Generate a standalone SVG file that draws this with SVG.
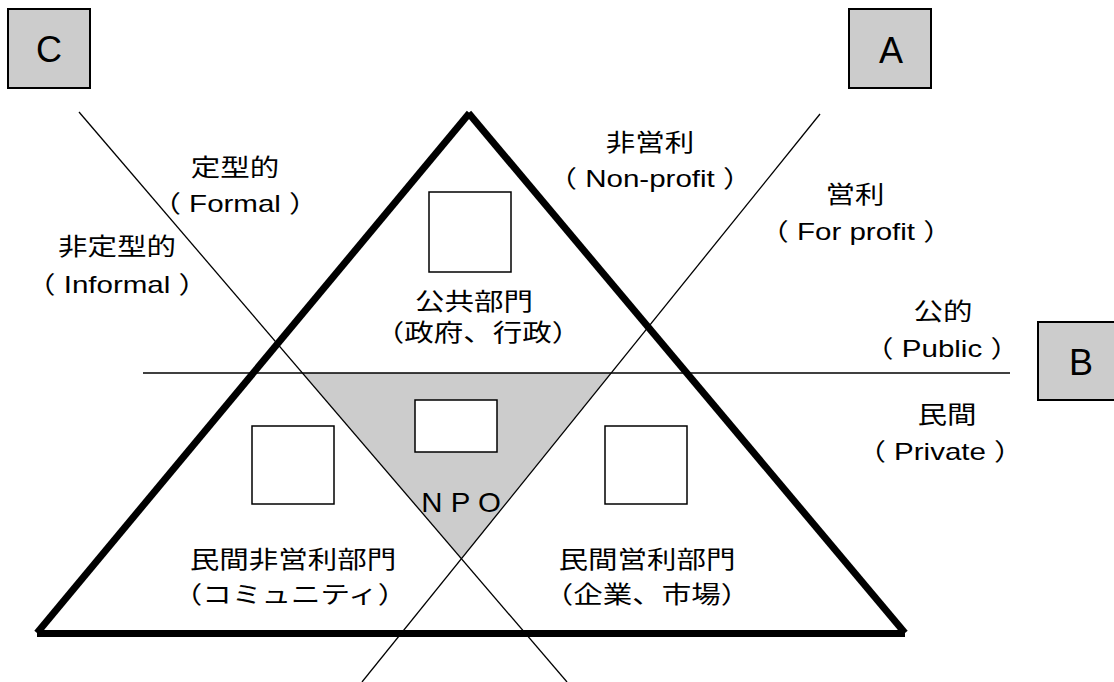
<svg xmlns="http://www.w3.org/2000/svg" width="1114" height="682" viewBox="0 0 1114 682">
<style>
.t{font-family:"Liberation Sans","Noto Sans CJK JP",sans-serif;font-size:24px;fill:#000;text-anchor:middle}
.big{font-family:"Liberation Sans","Noto Sans CJK JP",sans-serif;font-size:36px;fill:#000;text-anchor:middle}
.lbl{fill:#cccccc;stroke:#000;stroke-width:2}
.box{fill:#fff;stroke:#000;stroke-width:1.5}
.thin{stroke:#000;stroke-width:1.3;fill:none}
.thick{stroke:#000;stroke-width:7;fill:none;stroke-linecap:butt}
</style>
<rect width="1114" height="682" fill="#fff"/>
<polygon points="302.5,373 611,373 461.5,558.8" fill="#cccccc"/>
<g id="connectors">
<line class="thin" x1="143" y1="373" x2="1010" y2="373"/>
<line class="thin" x1="79" y1="112" x2="567" y2="682"/>
<line class="thin" x1="820" y1="114" x2="362" y2="682"/>
</g>
<g id="triangle">
<line class="thick" x1="37" y1="633" x2="469.5" y2="113"/>
<line class="thick" x1="468.5" y1="113" x2="905" y2="633"/>
<line class="thick" x1="37" y1="633.5" x2="905" y2="633.5"/>
</g>
<g id="nodeC"><rect class="lbl" x="8" y="9" width="82" height="79"/><text class="big" x="49" y="62">C</text></g>
<g id="nodeA"><rect class="lbl" x="849" y="9" width="82" height="79"/><text class="big" x="891" y="63">A</text></g>
<g id="nodeB"><rect class="lbl" x="1038" y="322" width="84" height="78"/><text class="big" x="1081" y="375">B</text></g>
<g id="public"><rect class="box" x="429" y="192" width="82" height="80"/>
<text class="t" transform="translate(474,310) scale(1.23,1)">公共部門</text>
<text class="t" transform="translate(478,341) scale(1.23,1)">（政府、行政）</text></g>
<g id="npo"><rect class="box" x="415" y="400" width="82" height="52"/>
<text class="t" style="font-size:27px" transform="translate(461,512) scale(1.09,1)">N P O</text></g>
<g id="community"><rect class="box" x="252" y="426" width="82" height="78"/>
<text class="t" transform="translate(293,568) scale(1.23,1)">民間非営利部門</text>
<text class="t" transform="translate(290,603) scale(1.23,1)">（コミュニティ）</text></g>
<g id="market"><rect class="box" x="605" y="426" width="82" height="78"/>
<text class="t" transform="translate(647,568) scale(1.23,1)">民間営利部門</text>
<text class="t" transform="translate(647,603) scale(1.23,1)">（企業、市場）</text></g>
<g id="labels">
<text class="t" transform="translate(235,176) scale(1.23,1)">定型的</text>
<text class="t" transform="translate(235,212) scale(1.23,1)">（ Formal ）</text>
<text class="t" transform="translate(117,255) scale(1.23,1)">非定型的</text>
<text class="t" transform="translate(117,293) scale(1.23,1)">（ Informal ）</text>
<text class="t" transform="translate(650,151) scale(1.23,1)">非営利</text>
<text class="t" transform="translate(650,187) scale(1.23,1)">（ Non-profit ）</text>
<text class="t" transform="translate(855,203) scale(1.23,1)">営利</text>
<text class="t" transform="translate(856,240) scale(1.23,1)">（ For profit ）</text>
<text class="t" transform="translate(943,320) scale(1.23,1)">公的</text>
<text class="t" transform="translate(942,357) scale(1.23,1)">（ Public ）</text>
<text class="t" transform="translate(947,423) scale(1.23,1)">民間</text>
<text class="t" transform="translate(940,460) scale(1.23,1)">（ Private ）</text>
</g>
</svg>
